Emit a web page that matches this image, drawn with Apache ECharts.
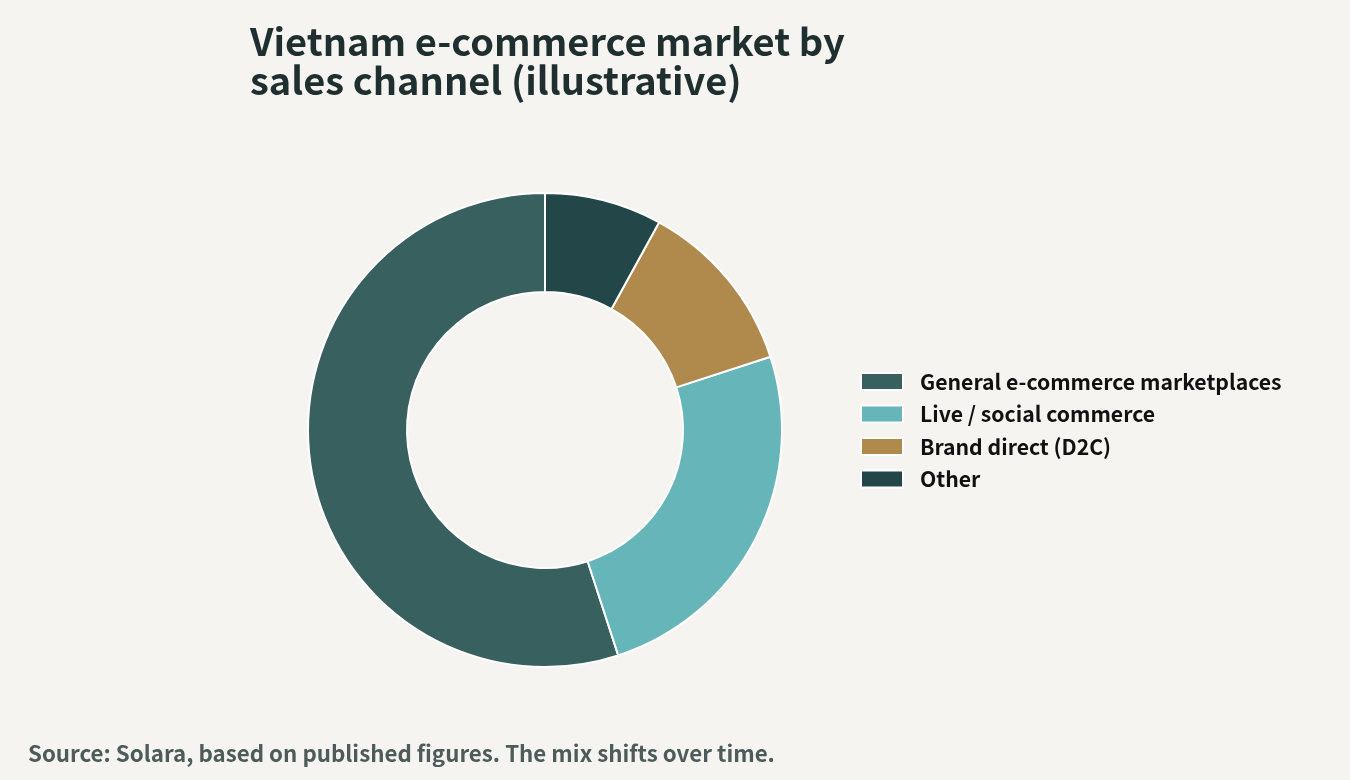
<!DOCTYPE html>
<html><head><meta charset="utf-8">
<script src="https://cdn.jsdelivr.net/npm/echarts@6/dist/echarts.min.js"></script>
<style>html,body{margin:0;padding:0;background:#F5F4F0;}#c{width:1350px;height:780px;}</style>
</head><body><div id="c"></div>
<script>
const categories = ["General e-commerce marketplaces", "Live / social commerce", "Brand direct (D2C)", "Other"];
const shares = [55, 25, 12, 8];
const colors = ["#37605F", "#65B5B9", "#B0894D", "#234748"];
const FONT = '"Noto Sans CJK SC", "Noto Sans", sans-serif';
const chart = echarts.init(document.getElementById('c'));
chart.setOption({
  backgroundColor: '#F5F4F0',
  animation: false,
  title: {
    text: 'Vietnam e-commerce market by\nsales channel (illustrative)',
    left: 245, top: 17,
    textStyle: {fontFamily: FONT, fontWeight: 'bold', fontSize: 38, lineHeight: 39, color: '#1F2E2E'}
  },
  graphic: [{
    type: 'text', left: 28, top: 742,
    style: {text: 'Source: Solara, based on published figures. The mix shifts over time.', font: 'bold 22.3px ' + FONT, fill: '#4D5B5B'}
  }],
  legend: {
    orient: 'vertical', left: 860, top: 371, padding: 0,
    itemWidth: 42, itemHeight: 17, itemGap: 11.3,
    icon: 'rect',
    data: categories,
    itemStyle: {borderColor: '#fff', borderWidth: 2},
    textStyle: {fontFamily: FONT, fontWeight: 'bold', fontSize: 21.2, lineHeight: 20, color: '#111', padding: [0,0,0,12]}
  },
  series: [{
    type: 'pie',
    center: [545, 430],
    radius: [138, 237],
    startAngle: 90,
    clockwise: false,
    label: {show: false},
    labelLine: {show: false},
    itemStyle: {borderColor: '#fff', borderWidth: 2},
    data: categories.map((n, i) => ({name: n, value: shares[i], itemStyle: {color: colors[i]}}))
  }]
});
</script></body></html>
